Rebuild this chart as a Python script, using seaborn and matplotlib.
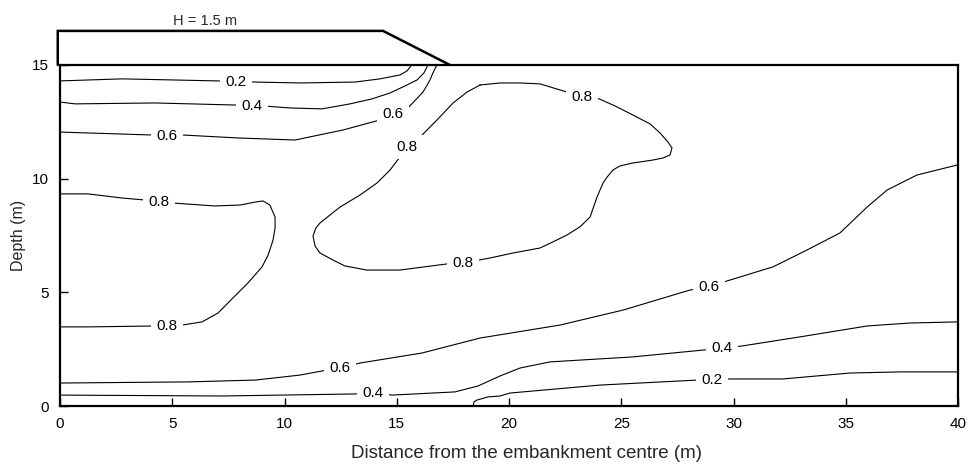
import matplotlib
matplotlib.use("Agg")
import matplotlib.pyplot as plt
import seaborn as sns
import pandas as pd

# Contour levels of the normalised excess pore pressure beneath the embankment
# (distance from the embankment centre, depth above the base of the layer)

c02_top_x = [0, 2.76, 7.04, 8.69, 10.69, 13.14, 14.25, 15.14, 15.46, 15.59, 15.68]
c02_top_y = [14.30, 14.39, 14.30, 14.25, 14.21, 14.25, 14.39, 14.56, 14.74, 14.91, 15.0]

c04_top_x = [0, 0.67, 4.23, 7.80, 9.04, 10.24, 11.67, 12.92, 13.9, 14.7, 15.37, 15.9, 16.21, 16.39]
c04_top_y = [13.37, 13.29, 13.33, 13.24, 13.2, 13.11, 13.07, 13.29, 13.51, 13.77, 14.08, 14.34, 14.65, 15.0]

c06_top_x = [0, 4.1, 5.48, 7.93, 10.47, 12.6, 14.25, 14.83, 15.46, 16.17, 16.48, 16.61, 16.79]
c06_top_y = [12.05, 11.92, 11.92, 11.79, 11.7, 12.14, 12.58, 12.85, 13.07, 13.81, 14.34, 14.65, 15.0]

c08_blob_x = [18.71, 19.6, 20.49, 21.38, 22.58, 23.25, 23.92, 24.72, 25.52, 26.28, 26.73, 27.08,
              27.26, 27.17, 26.86, 26.41, 25.52, 24.94, 24.63, 24.37, 24.19, 23.92, 23.61, 23.16,
              22.58, 21.96, 21.38, 20.18, 19.15, 17.95, 17.24, 15.14, 13.67, 12.69, 12.16, 11.58,
              11.36, 11.27, 11.4, 11.58, 12.47, 13.36, 14.12, 14.7, 15.14, 15.46, 16.04, 16.79,
              17.51, 18.13, 18.71]
c08_blob_y = [14.12, 14.21, 14.21, 14.17, 13.81, 13.6, 13.55, 13.2, 12.8, 12.41, 12.01, 11.61,
              11.35, 11.04, 10.91, 10.82, 10.69, 10.56, 10.38, 10.07, 9.81, 9.19, 8.31, 7.88,
              7.52, 7.22, 6.95, 6.73, 6.51, 6.29, 6.25, 5.98, 5.98, 6.16, 6.42, 6.73,
              7.04, 7.48, 7.83, 8.05, 8.75, 9.28, 9.81, 10.38, 10.95, 11.39, 11.83, 12.58,
              13.33, 13.81, 14.12]

c08_left_x = [0, 1.25, 2.76, 3.79, 4.41, 4.99, 6.9, 8.02, 8.69, 9.04, 9.35, 9.58, 9.58, 9.49,
              9.27, 9.0, 8.37, 7.66, 7.04, 6.33, 5.43, 4.77, 4.23, 1.25, 0]
c08_left_y = [9.33, 9.33, 9.15, 9.06, 8.97, 8.93, 8.8, 8.84, 8.97, 9.02, 8.84, 8.31, 7.83, 7.3,
              6.64, 6.12, 5.41, 4.71, 4.09, 3.7, 3.56, 3.52, 3.52, 3.48, 3.48]

c06_bot_x = [0, 5.7, 8.69, 10.69, 11.67, 12.47, 13.36, 16.12, 18.71, 22.27, 25.08, 28.06, 28.91,
             29.71, 31.76, 33.27, 34.74, 35.95, 36.84, 38.17, 39.96]
c06_bot_y = [1.01, 1.06, 1.14, 1.36, 1.54, 1.67, 1.89, 2.33, 2.99, 3.56, 4.22, 5.1, 5.24,
             5.5, 6.12, 6.86, 7.61, 8.75, 9.5, 10.16, 10.6]

c04_bot_x = [0, 7.22, 13.14, 13.94, 14.79, 17.59, 18.62, 19.6, 20.49, 21.83, 25.52, 28.64, 29.49,
             30.38, 32.96, 35.95, 37.86, 40.0]
c04_bot_y = [0.48, 0.44, 0.53, 0.57, 0.48, 0.62, 0.88, 1.32, 1.67, 1.94, 2.16, 2.46, 2.55,
             2.64, 3.04, 3.52, 3.65, 3.7]

c02_bot_x = [18.4, 18.44, 18.57, 19.06, 19.6, 20.04, 24.05, 28.37, 29.04, 29.84, 32.2, 35.19, 37.42, 40.0]
c02_bot_y = [0, 0.18, 0.26, 0.4, 0.44, 0.57, 0.92, 1.14, 1.14, 1.19, 1.19, 1.45, 1.5, 1.5]

# Inline contour labels
label_text = ["0.2", "0.4", "0.6", "0.6", "0.8", "0.8", "0.8", "0.8", "0.8",
              "0.6", "0.6", "0.4", "0.4", "0.2"]
label_x = [7.84, 8.55, 4.77, 14.83, 15.46, 23.25, 17.95, 4.41, 4.77,
           12.47, 28.91, 13.94, 29.49, 29.04]
label_y = [14.25, 13.2, 11.88, 12.85, 11.39, 13.6, 6.29, 8.97, 3.52,
           1.67, 5.24, 0.57, 2.55, 1.14]

# Embankment outline (crest at 16.5 m, toe at 17.4 m from centre)
emb_x = [-0.1, -0.1, 14.39, 17.37]
emb_y = [15.0, 16.5, 16.5, 15.0]

x_ticks = [0, 5, 10, 15, 20, 25, 30, 35, 40]
y_ticks = [0, 5, 10, 15]

sns.set_theme(style="ticks")
plt.rcParams["font.family"] = ["Liberation Sans", "DejaVu Sans"]

fig = plt.figure(figsize=(9.68, 4.66), dpi=100)
ax = fig.add_axes([60 / 968, 1 - 406 / 466, 898 / 968, 341 / 466])

contours = [
    (c02_top_x, c02_top_y), (c04_top_x, c04_top_y), (c06_top_x, c06_top_y),
    (c08_blob_x, c08_blob_y), (c08_left_x, c08_left_y),
    (c06_bot_x, c06_bot_y), (c04_bot_x, c04_bot_y), (c02_bot_x, c02_bot_y),
]
for cx, cy in contours:
    df = pd.DataFrame({"x": cx, "y": cy})
    sns.lineplot(data=df, x="x", y="y", sort=False, estimator=None,
                 color="black", linewidth=0.8, ax=ax)

# Labels sit between the contour lines (zorder 2) and the frame (zorder 2.5)
for t, lx, ly in zip(label_text, label_x, label_y):
    ax.text(lx, ly, t, ha="center", va="center", fontsize=11, color="black",
            bbox=dict(boxstyle="square,pad=0.35", facecolor="white", edgecolor="none"),
            zorder=2.2)

# Embankment drawn above the ground surface
ax.plot(emb_x, emb_y, color="black", linewidth=1.8, clip_on=False,
        solid_joinstyle="miter", zorder=6)
ax.text(6.46, 16.94, "H = 1.5 m", ha="center", va="center", fontsize=10.5,
        clip_on=False)

ax.set_xlim(0, 40)
ax.set_ylim(0, 15)
ax.set_xticks(x_ticks)
ax.set_yticks(y_ticks)
ax.tick_params(direction="in", length=6, width=1, labelsize=11, pad=8,
               color="black", labelcolor="black")
for side in ["left", "right", "top", "bottom"]:
    ax.spines[side].set_visible(True)
    ax.spines[side].set_linewidth(1.6)
    ax.spines[side].set_color("black")
    ax.spines[side].set_zorder(2.5)

ax.set_xlabel("Distance from the embankment centre (m)", fontsize=13.5)
ax.xaxis.set_label_coords(0.519, -0.115)
ax.set_ylabel("Depth (m)", fontsize=11.5)
ax.yaxis.set_label_coords(-0.038, 0.5)

fig.savefig("out.png", dpi=100)
